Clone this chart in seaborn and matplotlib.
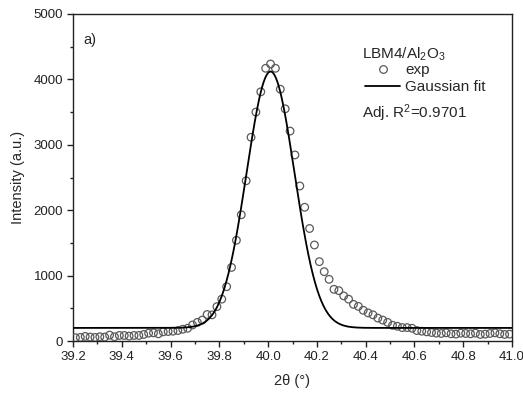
import numpy as np
import pandas as pd
import matplotlib
matplotlib.use("Agg")
import matplotlib.pyplot as plt
import seaborn as sns
from matplotlib.lines import Line2D
from matplotlib.ticker import MultipleLocator

# Measured XRD scan: 2-theta grid (step 0.02 deg) and intensities
theta_start = 39.21
theta_step = 0.02
intensity = [
    50, 55, 70, 60, 55, 65, 60, 90, 65, 85,
    85, 75, 85, 85, 100, 120, 125, 110, 140, 145,
    150, 160, 180, 195, 245, 285, 320, 405, 400, 525,
    640, 830, 1125, 1540, 1930, 2450, 3115, 3500, 3810, 4170,
    4235, 4170, 3850, 3550, 3210, 2845, 2370,
    2045, 1720, 1468, 1213, 1060, 943, 790, 770, 690, 640,
    560, 530, 470, 430, 400, 350, 320, 285, 240, 225,
    205, 205, 195, 160, 150, 140,
    130, 120, 115, 125, 110, 105, 120, 115, 110, 120,
    100, 105, 115, 125, 110, 100, 105,
]
two_theta = theta_start + theta_step * np.arange(len(intensity))

# Gaussian fit parameters
fit_y0 = 200.0
fit_xc = 40.01
fit_height = 3920.0
fit_sigma = 0.098

sample_label = "LBM4/Al$_2$O$_3$"
r2_label = "Adj. R$^2$=0.9701"
panel_label = "a)"

df = pd.DataFrame({"two_theta": two_theta, "intensity": intensity})
x_fit = np.linspace(39.2, 41.0, 600)
y_fit = fit_y0 + fit_height * np.exp(-(x_fit - fit_xc) ** 2 / (2 * fit_sigma ** 2))
fit_df = pd.DataFrame({"two_theta": x_fit, "intensity": y_fit})

sns.set_style("ticks")
plt.rcParams["font.family"] = ["Liberation Sans", "DejaVu Sans"]
plt.rcParams["mathtext.fontset"] = "custom"
plt.rcParams["mathtext.rm"] = "Liberation Sans"
plt.rcParams["mathtext.it"] = "Liberation Sans"
plt.rcParams["mathtext.default"] = "regular"

fig = plt.figure(figsize=(5.23, 3.98), dpi=100)
ax = fig.add_axes([73 / 523, 57 / 398, 439 / 523, 327 / 398])

sns.scatterplot(data=df, x="two_theta", y="intensity", ax=ax, marker="o",
                s=30, facecolor="none", edgecolor="#5a5a5a", linewidth=0.9,
                legend=False, zorder=3)
sns.lineplot(data=fit_df, x="two_theta", y="intensity", ax=ax, color="black",
             linewidth=1.3, legend=False, zorder=4)

ax.set_xlim(39.2, 41.0)
ax.set_ylim(0, 5000)
ax.xaxis.set_major_locator(MultipleLocator(0.2))
ax.xaxis.set_minor_locator(MultipleLocator(0.1))
ax.yaxis.set_major_locator(MultipleLocator(1000))
ax.yaxis.set_minor_locator(MultipleLocator(500))
ax.xaxis.set_major_formatter(matplotlib.ticker.FormatStrFormatter("%.1f"))
ax.tick_params(axis="both", which="major", direction="out", length=4, width=1,
               labelsize=9.5, colors="#222222", pad=3)
ax.tick_params(axis="both", which="minor", direction="out", length=2.5, width=1,
               colors="#222222")
for side in ["top", "right", "left", "bottom"]:
    ax.spines[side].set_visible(True)
    ax.spines[side].set_linewidth(1.0)
    ax.spines[side].set_color("#222222")

ax.set_xlabel("2θ (°)", fontsize=10.5, labelpad=8)
ax.set_ylabel("Intensity (a.u.)", fontsize=10.5, labelpad=6)

ax.text(0.024, 0.92, panel_label, transform=ax.transAxes, fontsize=10.5,
        ha="left", va="center")
ax.text(0.658, 0.877, sample_label, transform=ax.transAxes, fontsize=11,
        ha="left", va="center")
ax.text(0.658, 0.697, r2_label, transform=ax.transAxes, fontsize=11,
        ha="left", va="center")

handles = [
    Line2D([], [], marker="o", linestyle="none", markerfacecolor="none",
           markeredgecolor="#5a5a5a", markersize=5.5, markeredgewidth=0.9),
    Line2D([], [], color="black", linewidth=1.3),
]
ax.legend(handles, ["exp", "Gaussian fit"], loc="upper left",
          bbox_to_anchor=(0.665, 0.85), frameon=False, fontsize=11,
          handlelength=2.3, handletextpad=0.33, labelspacing=0.2,
          borderaxespad=0, borderpad=0)

fig.savefig("out.png", dpi=100)
